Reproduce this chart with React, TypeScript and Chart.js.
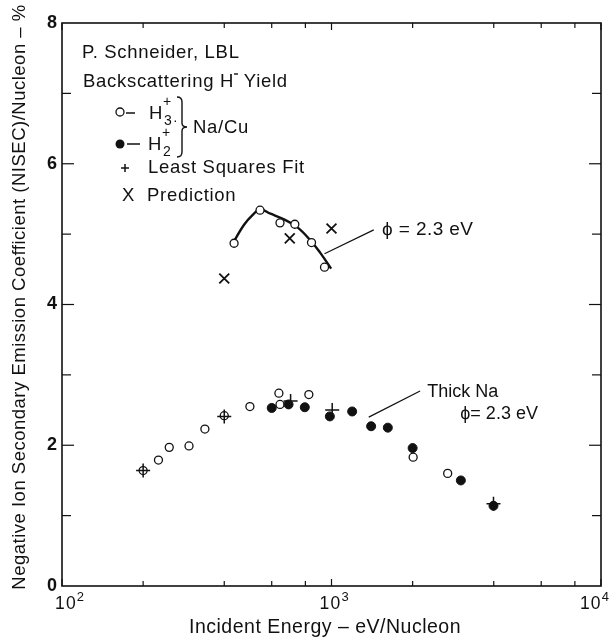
import { useEffect, useRef } from "react";
import { Chart, registerables } from "chart.js";
Chart.register(...registerables);

const FONT = '"Liberation Sans", Arial, Helvetica, sans-serif';

// Upper group (phi = 2.3 eV): open circles H3+ and fitted curve
const upperEnergy = [435, 543, 644, 731, 843, 942];
const upperH3 = [4.87, 5.34, 5.16, 5.14, 4.88, 4.53];
const curveEnergy = [435, 473, 509, 543, 594, 666, 746, 836, 910, 997];
const curveFit = [4.9, 5.13, 5.27, 5.35, 5.29, 5.21, 5.1, 4.91, 4.73, 4.51];
// Prediction (X)
const predEnergy = [400, 700, 1000];
const predValue = [4.37, 4.94, 5.08];
// Lower group (Thick Na): H3+ open, H2+ filled, least squares fit
const h3Energy = [200, 228, 250, 296, 339, 400, 498, 638, 644, 824, 2009, 2698];
const h3Value = [1.64, 1.79, 1.97, 1.99, 2.23, 2.42, 2.55, 2.74, 2.58, 2.72, 1.83, 1.6];
const h2Energy = [600, 693, 796, 986, 1193, 1403, 1618, 2000, 3020, 3991];
const h2Value = [2.53, 2.58, 2.54, 2.41, 2.48, 2.27, 2.25, 1.96, 1.5, 1.14];
const fitEnergy = [200, 400, 705, 1006, 3991];
const fitValue = [1.64, 2.41, 2.63, 2.5, 1.17];

// Axis ticks
const xTickValues = [100, 200, 400, 600, 800, 1000, 2000, 4000, 6000, 8000, 10000];
const xDecades = [100, 1000, 10000];
const xDecadeExp = ["2", "3", "4"];
const yTickValues = [1, 2, 3, 4, 5, 6, 7];

const xTitle = "Incident Energy \u2013 eV/Nucleon";
const yTitle = "Negative Ion Secondary Emission Coefficient (NISEC)/Nucleon \u2013 %";

export default function App() {
  const ref = useRef<HTMLCanvasElement>(null);
  useEffect(() => {
    const canvas = ref.current!;
    const pts = (xs: number[], ys: number[]) => xs.map((x, i) => ({ x, y: ys[i] }));
    const ink = "#111";

    const framePlugin = {
      id: "frame",
      afterDraw(chart: any) {
        const { ctx, chartArea: a, scales, width } = chart;
        const xs = scales.x;
        const ys = scales.y;
        const X = (v: number) => xs.getPixelForValue(v);
        const Y = (v: number) => ys.getPixelForValue(v);
        const line = (x1: number, y1: number, x2: number, y2: number) => {
          ctx.beginPath();
          ctx.moveTo(x1, y1);
          ctx.lineTo(x2, y2);
          ctx.stroke();
        };
        const sp = (px: number) => {
          (ctx as any).letterSpacing = `${px}px`;
        };
        ctx.save();
        ctx.strokeStyle = ink;
        ctx.fillStyle = ink;
        ctx.lineWidth = 1.6;
        ctx.strokeRect(a.left, a.top, a.right - a.left, a.bottom - a.top);
        ctx.lineWidth = 1.2;
        for (const v of xTickValues) {
          const px = X(v);
          const len = xDecades.includes(v) ? 7 : 5;
          line(px, a.bottom, px, a.bottom - len);
          line(px, a.top, px, a.top + len);
        }
        for (const v of yTickValues) {
          const py = Y(v);
          const len = v % 2 === 0 ? 12 : 9;
          line(a.left, py, a.left + len, py);
          line(a.right, py, a.right - len, py);
        }
        // x decade labels with superscripts (kept inside the canvas)
        ctx.textBaseline = "middle";
        ctx.textAlign = "left";
        xDecades.forEach((v, i) => {
          const px = X(v);
          sp(1.2);
          ctx.font = `17.5px ${FONT}`;
          const w = ctx.measureText("10").width;
          sp(0);
          ctx.font = `13px ${FONT}`;
          const we = ctx.measureText(xDecadeExp[i]).width;
          let x0 = px - w / 2 - 1;
          x0 = Math.max(x0, a.left - 7);
          x0 = Math.min(x0, width - 1 - we - w);
          sp(1.2);
          ctx.font = `17.5px ${FONT}`;
          ctx.fillText("10", x0, 604);
          sp(0);
          ctx.font = `13px ${FONT}`;
          ctx.fillText(xDecadeExp[i], x0 + w, 597);
        });
        // axis titles
        sp(0.5);
        ctx.font = `19.5px ${FONT}`;
        ctx.textAlign = "center";
        ctx.fillText(xTitle, 325, 628);
        ctx.save();
        ctx.translate(20, 297);
        ctx.rotate(-Math.PI / 2);
        sp(0.5);
        ctx.font = `18.5px ${FONT}`;
        ctx.fillText(yTitle, 0, 0);
        ctx.restore();

        // legend block
        ctx.textAlign = "left";
        const big = `18.5px ${FONT}`;
        const small = `14px ${FONT}`;
        sp(0.7);
        ctx.font = big;
        ctx.fillText("P. Schneider, LBL", 82, 53);
        let cx = 83;
        const t1 = "Backscattering H";
        ctx.fillText(t1, cx, 82);
        cx += ctx.measureText(t1).width;
        ctx.lineWidth = 1.4;
        line(cx, 74, cx + 4, 74);
        ctx.fillText(" Yield", cx + 4, 82);
        // row 1: open circle - H3+
        ctx.lineWidth = 1.3;
        ctx.beginPath();
        ctx.arc(120, 112, 4, 0, Math.PI * 2);
        ctx.fillStyle = "#fff";
        ctx.fill();
        ctx.stroke();
        ctx.fillStyle = ink;
        ctx.lineWidth = 1.5;
        line(126, 113, 135, 113);
        ctx.font = big;
        ctx.fillText("H", 149, 114);
        ctx.font = small;
        ctx.fillText("+", 163, 102);
        ctx.fillText("3", 164, 121);
        ctx.fillText("\u00b7", 173, 121);
        // row 2: filled circle - H2+
        ctx.beginPath();
        ctx.arc(120, 144, 4.5, 0, Math.PI * 2);
        ctx.fill();
        line(127, 144, 140, 144);
        ctx.font = big;
        ctx.fillText("H", 148, 145);
        ctx.font = small;
        ctx.fillText("+", 162, 133);
        ctx.fillText("2", 163, 152);
        // brace
        ctx.lineWidth = 1.4;
        ctx.beginPath();
        ctx.moveTo(177, 97);
        ctx.quadraticCurveTo(182, 97, 182, 102);
        ctx.lineTo(182, 123);
        ctx.quadraticCurveTo(182, 127, 187, 127);
        ctx.quadraticCurveTo(182, 127, 182, 131);
        ctx.lineTo(182, 152);
        ctx.quadraticCurveTo(182, 157, 177, 157);
        ctx.stroke();
        ctx.font = big;
        ctx.fillText("Na/Cu", 193, 128);
        // row 3: + Least Squares Fit
        ctx.lineWidth = 1.5;
        line(121, 168, 129, 168);
        line(125, 164, 125, 172);
        ctx.fillText("Least Squares Fit", 148, 168);
        // row 4: X Prediction
        ctx.fillText("X", 122, 196);
        ctx.fillText("Prediction", 147, 196);

        // annotations (anchored in data coordinates)
        ctx.lineWidth = 1.2;
        line(X(942), Y(4.72), X(1435), Y(5.06));
        sp(0.4);
        ctx.font = `19px ${FONT}`;
        ctx.fillText("\u03d5 = 2.3 eV", X(1541), Y(5.06));
        line(X(1375), Y(2.4), X(2132), Y(2.77));
        sp(0);
        ctx.font = `18px ${FONT}`;
        ctx.fillText("Thick Na", X(2268), Y(2.76));
        ctx.fillText("\u03d5= 2.3 eV", X(3005), Y(2.44));
        ctx.restore();
      },
    };

    const chart = new Chart(canvas, {
      type: "scatter",
      data: {
        datasets: [
          {
            data: pts(curveEnergy, curveFit),
            showLine: true,
            borderColor: ink,
            borderWidth: 2.4,
            pointRadius: 0,
            tension: 0.4,
            fill: false,
            order: 10,
          },
          {
            data: pts(upperEnergy, upperH3),
            pointStyle: "circle",
            pointRadius: 4,
            pointBackgroundColor: "#fff",
            pointBorderColor: ink,
            pointBorderWidth: 1.3,
            order: 5,
          },
          {
            data: pts(predEnergy, predValue),
            pointStyle: "crossRot",
            pointRadius: 7,
            pointBorderColor: ink,
            pointBorderWidth: 1.8,
            order: 4,
          },
          {
            data: pts(h3Energy, h3Value),
            pointStyle: "circle",
            pointRadius: 4,
            pointBackgroundColor: "#fff",
            pointBorderColor: ink,
            pointBorderWidth: 1.3,
            order: 3,
          },
          {
            data: pts(h2Energy, h2Value),
            pointStyle: "circle",
            pointRadius: 4.5,
            pointBackgroundColor: ink,
            pointBorderColor: ink,
            pointBorderWidth: 1,
            order: 2,
          },
          {
            data: pts(fitEnergy, fitValue),
            pointStyle: "cross",
            pointRadius: 7,
            pointBorderColor: ink,
            pointBorderWidth: 1.5,
            order: 1,
          },
        ],
      },
      options: {
        animation: false,
        responsive: false,
        devicePixelRatio: 1,
        layout: { padding: { top: 23, right: 9, left: 0, bottom: 0 } },
        plugins: { legend: { display: false }, tooltip: { enabled: false } },
        scales: {
          x: {
            type: "logarithmic",
            min: 100,
            max: 10000,
            grid: { display: false, drawTicks: false },
            border: { display: false },
            ticks: { display: false },
            afterFit(s: any) {
              s.height = 54;
            },
          },
          y: {
            min: 0,
            max: 8,
            grid: { display: false, drawTicks: false },
            border: { display: false },
            ticks: {
              stepSize: 2,
              padding: 5,
              color: ink,
              font: { size: 18, weight: "bold", family: FONT },
            },
            afterFit(s: any) {
              s.width = 62;
            },
          },
        },
      },
      plugins: [framePlugin],
    } as any);
    return () => chart.destroy();
  }, []);

  return (
    <div style={{ position: "absolute", left: 0, top: 0, width: 610, height: 640, background: "#fff" }}>
      <canvas ref={ref} width={610} height={640} style={{ width: 610, height: 640 }} />
    </div>
  );
}
